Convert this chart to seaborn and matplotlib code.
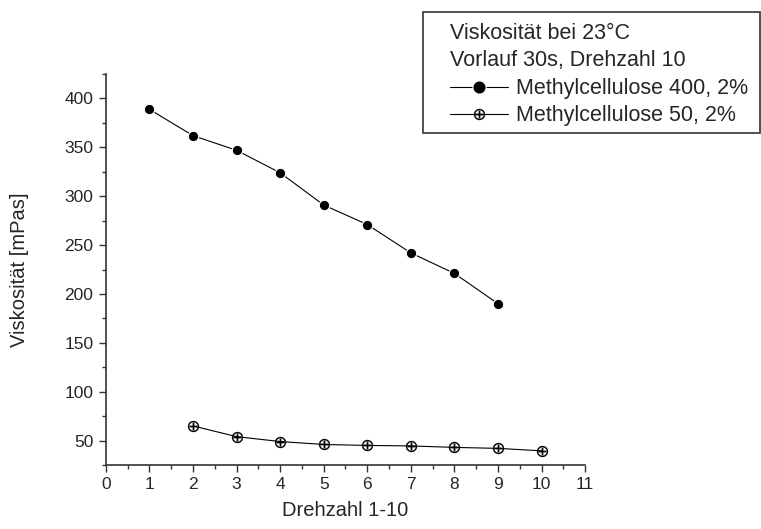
import matplotlib
matplotlib.use('Agg')
import matplotlib.pyplot as plt
from matplotlib.ticker import MultipleLocator
from matplotlib.patches import Rectangle
import seaborn as sns
import pandas as pd

# Viskosität vs Drehzahl
drehzahl_400 = [1, 2, 3, 4, 5, 6, 7, 8, 9]
visk_400 = [389, 362, 347, 324, 291, 271, 242, 221, 190]
drehzahl_50 = [2, 3, 4, 5, 6, 7, 8, 9, 10]
visk_50 = [65, 54, 49, 46, 45, 44.5, 43, 42, 39.5]

sns.set_style('ticks')
plt.rcParams['font.family'] = ['Liberation Sans', 'DejaVu Sans']

W, H = 761, 529
fig = plt.figure(figsize=(W / 100, H / 100), dpi=100)
ax = fig.add_axes([0.139, 0.121, 0.630, 0.739])

df1 = pd.DataFrame({'x': drehzahl_400, 'y': visk_400})
df2 = pd.DataFrame({'x': drehzahl_50, 'y': visk_50})

sns.lineplot(data=df1, x='x', y='y', ax=ax, color='black', lw=0.8,
             marker='o', markersize=7.5, markeredgecolor='white', markeredgewidth=0.8,
             label='Methylcellulose 400, 2%')
sns.lineplot(data=df2, x='x', y='y', ax=ax, color='black', lw=0.8,
             marker=r'$\oplus$', markersize=8, markeredgewidth=0.15,
             markeredgecolor='black', markerfacecolor='black',
             label='Methylcellulose 50, 2%')

ax.set_xlim(0, 11)
ax.set_ylim(25, 425)
ax.xaxis.set_major_locator(MultipleLocator(1))
ax.xaxis.set_minor_locator(MultipleLocator(0.5))
ax.yaxis.set_minor_locator(MultipleLocator(25))
ax.set_yticks(range(50, 401, 50))
ax.tick_params(which='major', direction='out', length=5, width=1, labelsize=12.5,
               color='#333333', pad=4)
ax.tick_params(which='minor', direction='out', length=3, width=1, color='#333333')
for s in ['top', 'right']:
    ax.spines[s].set_visible(False)
for s in ['left', 'bottom']:
    ax.spines[s].set_color('#333333')
    ax.spines[s].set_linewidth(1.2)

ax.set_xlabel('Drehzahl 1-10', fontsize=14.5, labelpad=6)
ax.set_ylabel('Viskosität [mPas]', fontsize=14.5, labelpad=25)

ax.get_legend().remove()
h, l = ax.get_legend_handles_labels()

# legend frame drawn separately (wider padding than legend allows)
fig.add_artist(Rectangle((423 / W, 1 - 133 / H), 337 / W, 121 / H,
                         transform=fig.transFigure, fill=False,
                         edgecolor='#333333', linewidth=1.2))
leg = fig.legend(h, l, title='Viskosität bei 23°C\nVorlauf 30s, Drehzahl 10',
                 loc='upper left', bbox_to_anchor=(450 / W, 1 - 23 / H),
                 frameon=False, fontsize=15.5, title_fontsize=15.5, alignment='left',
                 handlelength=2.7, handletextpad=0.35, borderpad=0,
                 labelspacing=0.28, borderaxespad=0)
leg.get_title().set_linespacing(1.4)
leg._legend_box.sep = 5
leg.legend_handles[0].set_markersize(9.5)

fig.savefig('out.png', dpi=100)
